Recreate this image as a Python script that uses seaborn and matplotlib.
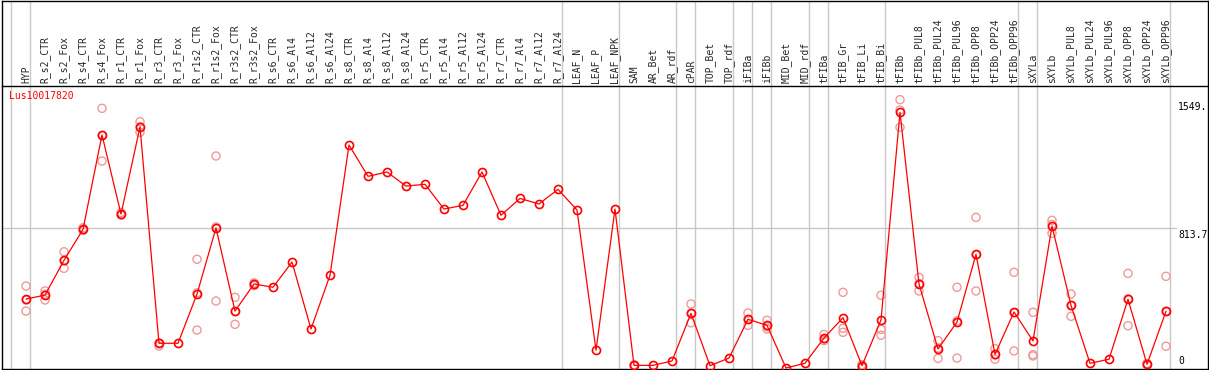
import numpy as np
import pandas as pd
import matplotlib
matplotlib.use("Agg")
import matplotlib.pyplot as plt
import matplotlib.transforms as mtransforms
import seaborn as sns

gene = "Lus10017820"

samples = [
    "HYP",
    "R_s2_CTR", "R_s2_Fox", "R_s4_CTR", "R_s4_Fox", "R_r1_CTR", "R_r1_Fox",
    "R_r3_CTR", "R_r3_Fox", "R_r1s2_CTR", "R_r1s2_Fox", "R_r3s2_CTR", "R_r3s2_Fox",
    "R_s6_CTR", "R_s6_Al4", "R_s6_Al12", "R_s6_Al24",
    "R_s8_CTR", "R_s8_Al4", "R_s8_Al12", "R_s8_Al24",
    "R_r5_CTR", "R_r5_Al4", "R_r5_Al12", "R_r5_Al24",
    "R_r7_CTR", "R_r7_Al4", "R_r7_Al12", "R_r7_Al24",
    "LEAF_N", "LEAF_P", "LEAF_NPK",
    "SAM", "AR_Bet", "AR_rdf",
    "cPAR",
    "TOP_Bet", "TOP_rdf",
    "iFIBa",
    "iFIBb",
    "MID_Bet", "MID_rdf",
    "tFIBa",
    "tFIB_Gr", "tFIB_Li", "tFIB_Bi",
    "tFIBb", "tFIBb_PUL8", "tFIBb_PUL24", "tFIBb_PUL96",
    "tFIBb_OPP8", "tFIBb_OPP24", "tFIBb_OPP96",
    "sXYLa",
    "sXYLb", "sXYLb_PUL8", "sXYLb_PUL24", "sXYLb_PUL96",
    "sXYLb_OPP8", "sXYLb_OPP24", "sXYLb_OPP96",
]

# number of samples in each tissue block (grey separators)
group_sizes = [1, 28, 3, 3, 1, 2, 1, 1, 2, 1, 3, 7, 1, 7]

means = [
    402,
    425, 625, 803, 1346, 891, 1392,
    148, 148, 431, 811, 333, 489,
    470, 615, 230, 539,
    1288, 1108, 1133, 1052,
    1062, 920, 941, 1133,
    884, 981, 949, 1033,
    914, 108, 920,
    21, 21, 46,
    320,
    19, 63,
    286,
    251,
    6, 33,
    178,
    295, 19, 282,
    1476, 489, 115, 270,
    659, 84, 328,
    161,
    822, 366, 33, 56,
    401, 27, 332,
]

replicates = {
    "HYP": [477, 397, 333],
    "R_s2_CTR": [449, 430, 397],
    "R_s2_Fox": [674, 622, 579],
    "R_s4_CTR": [812, 800, 797],
    "R_s4_Fox": [1499, 1343, 1196],
    "R_r1_CTR": [900, 885, 888],
    "R_r1_Fox": [1422, 1393, 1361],
    "R_r3_CTR": [150, 148, 132],
    "R_r1s2_CTR": [631, 438, 224],
    "R_r1s2_Fox": [1225, 817, 391],
    "R_r3s2_CTR": [412, 330, 257],
    "R_r3s2_Fox": [495, 480, 490],
    "SAM": [25, 18, 20],
    "cPAR": [374, 320, 266],
    "iFIBa": [322, 285, 251],
    "iFIBb": [280, 243, 230],
    "tFIBa": [199, 172, 163],
    "tFIB_Gr": [441, 234, 211],
    "tFIB_Li": [22, 25, 10],
    "tFIB_Bi": [424, 228, 194],
    "tFIBb": [1549, 1489, 1390],
    "tFIBb_PUL8": [527, 491, 449],
    "tFIBb_PUL24": [163, 121, 61],
    "tFIBb_PUL96": [470, 277, 63],
    "tFIBb_OPP8": [872, 656, 449],
    "tFIBb_OPP24": [117, 80, 56],
    "tFIBb_OPP96": [556, 324, 104],
    "sXYLa": [326, 82, 75],
    "sXYLb": [855, 831, 780],
    "sXYLb_PUL8": [431, 364, 303],
    "sXYLb_OPP8": [550, 404, 249],
    "sXYLb_OPP24": [30, 20, 31],
    "sXYLb_OPP96": [533, 332, 131],
}

ytick_vals = [1549, 813.7, 0]
ytick_labels = ["1549.", "813.7", "0"]
ymax = 1627.4

df_mean = pd.DataFrame({"pos": np.arange(len(samples)), "expr": means})
rows = []
for name, vals in replicates.items():
    for v in vals:
        rows.append({"pos": samples.index(name), "expr": v})
df_rep = pd.DataFrame(rows)

sns.set_style("white")
plt.rcParams["font.family"] = ["DejaVu Sans Mono"]

W, H = 1209, 370
fig = plt.figure(figsize=(W / 100, H / 100), dpi=100)
ax = fig.add_axes([2 / W, 1 / H, 1206 / W, 283 / H])
ax_top = fig.add_axes([2 / W, 284 / H, 1206 / W, 85.5 / H], sharex=ax)
ax.set_zorder(2)
ax_top.set_zorder(1)

grid_c = "#c8c8c8"
edges = np.concatenate([[0], np.cumsum(group_sizes)]) - 1 + 0.21
for e in edges:
    ax.axvline(e, color=grid_c, lw=1.0, zorder=0)
    ax_top.axvline(e, color=grid_c, lw=1.0, zorder=0)
ax.axhline(ymax / 2, xmin=0, xmax=(1176 - 2) / 1206, color=grid_c, lw=1.0, zorder=0)

sns.scatterplot(data=df_rep, x="pos", y="expr", ax=ax, marker="o", s=34,
                facecolor="none", edgecolor="#ee9a9a", linewidth=1.0, zorder=3)
sns.lineplot(data=df_mean, x="pos", y="expr", ax=ax, color="red", lw=0.9,
             marker="o", markersize=5.8, markerfacecolor="none",
             markeredgecolor="red", markeredgewidth=1.2, zorder=4)

ax.set_xlim((2 - 26) / 19, (1208 - 26) / 19)
ax.set_ylim(0, ymax)
ax.set_xlabel("")
ax.set_ylabel("")
ax.set_yticks([])
ax.set_xticks(np.arange(len(samples)))
ax.set_xticklabels(samples, rotation=90, fontsize=7, family="DejaVu Sans Mono")
ax.xaxis.tick_top()
ax.tick_params(axis="x", length=0, pad=2, labelbottom=False, labeltop=True)

for s in ax.spines.values():
    s.set_color("black")
    s.set_linewidth(1.0)

ax_top.set_yticks([])
ax_top.tick_params(axis="x", length=0, labelbottom=False, labeltop=False)
ax_top.spines["bottom"].set_visible(False)
for k in ["top", "left", "right"]:
    ax_top.spines[k].set_color("black")
    ax_top.spines[k].set_linewidth(1.0)

trans = mtransforms.blended_transform_factory(ax.transAxes, ax.transData)
for val, lab in zip(ytick_vals, ytick_labels):
    va = "bottom" if val == 0 else "top"
    dy = 2 if val == 0 else -2
    ax.annotate(lab, xy=((1178 - 2) / 1206, val), xycoords=trans,
                xytext=(0, dy), textcoords="offset points",
                ha="left", va=va, fontsize=7, color="black")

ax.text(7 / 1206, (369 - 91) / 283, gene, transform=ax.transAxes,
        ha="left", va="top", fontsize=7, color="red")

fig.savefig("out.png", dpi=100)
